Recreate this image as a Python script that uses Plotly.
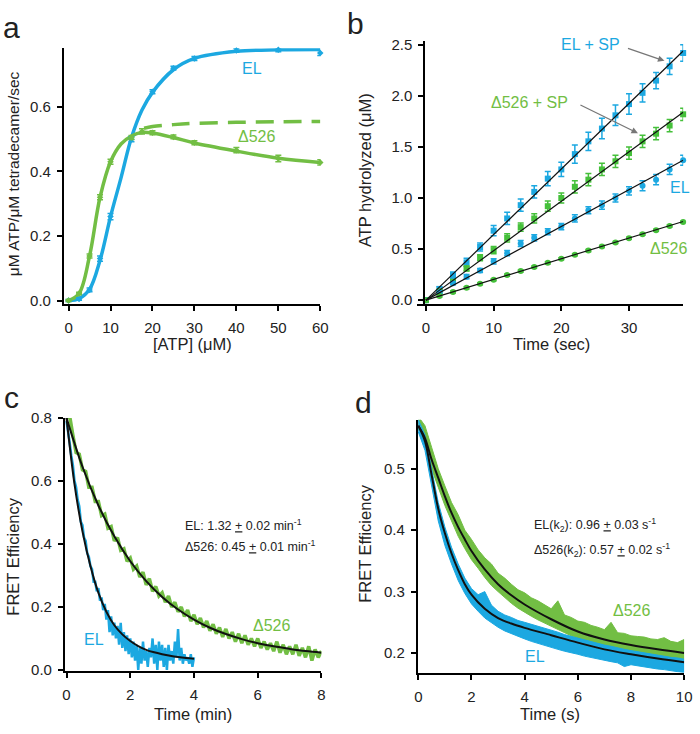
import numpy as np
import plotly.graph_objects as go

BLUE = "#1CA8E1"
GREEN = "#72BE44"
GREEN_B = "#45C03A"
FONT = "Liberation Sans, Arial, sans-serif"
W, H = 700, 734

# ---- panel a: ATPase rate vs [ATP]
atp = [0, 2.5, 5, 7.5, 10, 15, 20, 25, 30, 40, 50, 60]
el_rate = [0.0, 0.005, 0.033, 0.13, 0.26, 0.50, 0.647, 0.72, 0.75, 0.775, 0.777, 0.767]
el_rate_err = [0.003, 0.004, 0.006, 0.008, 0.01, 0.008, 0.006, 0.006, 0.006, 0.006, 0.006, 0.008]
d526_atp = [0, 2.5, 5, 7.5, 10, 15, 17.5, 20, 25, 30, 40, 50, 60]
d526_rate = [0.0, 0.022, 0.138, 0.32, 0.43, 0.505, 0.524, 0.52, 0.507, 0.489, 0.466, 0.44, 0.428]
d526_rate_err = [0.003, 0.004, 0.006, 0.008, 0.008, 0.006, 0.008, 0.006, 0.006, 0.006, 0.008, 0.01, 0.008]
fit_atp = [0, 2.5, 5, 7.5, 10, 12.5, 15, 17.5, 20, 25, 30, 40, 50, 60]
el_rate_fit = [0, 0.006, 0.035, 0.125, 0.26, 0.38, 0.505, 0.59, 0.645, 0.715, 0.75, 0.772, 0.777, 0.778]
d526_rate_fit = [0, 0.022, 0.138, 0.32, 0.43, 0.485, 0.51, 0.521, 0.519, 0.505, 0.488, 0.463, 0.441, 0.428]
dash_atp = [18, 20, 25, 30, 40, 50, 60]
d526_dash = [0.534, 0.539, 0.545, 0.549, 0.552, 0.554, 0.555]

# ---- panel b: ATP hydrolyzed vs time
time_b = [0, 2, 4, 6, 8, 10, 12, 14, 16, 18, 20, 22, 24, 26, 28, 30, 32, 34, 36, 38]
elsp = [0, 0.11, 0.245, 0.37, 0.52, 0.68, 0.80, 0.93, 1.06, 1.19, 1.28, 1.43, 1.555, 1.68, 1.81, 1.92, 2.03, 2.15, 2.29, 2.42]
elsp_err = [0.0, 0.02, 0.03, 0.04, 0.04, 0.05, 0.06, 0.06, 0.06, 0.07, 0.07, 0.09, 0.09, 0.10, 0.10, 0.10, 0.09, 0.08, 0.08, 0.08]
d526sp = [0, 0.086, 0.18, 0.31, 0.415, 0.49, 0.61, 0.715, 0.80, 0.92, 1.00, 1.11, 1.18, 1.28, 1.36, 1.44, 1.555, 1.63, 1.71, 1.82]
d526sp_err = [0.0, 0.015, 0.02, 0.025, 0.03, 0.035, 0.04, 0.04, 0.045, 0.05, 0.05, 0.06, 0.06, 0.06, 0.06, 0.06, 0.06, 0.06, 0.06, 0.06]
el_b = [0, 0.077, 0.165, 0.23, 0.29, 0.38, 0.46, 0.555, 0.61, 0.67, 0.72, 0.80, 0.88, 0.93, 1.00, 1.07, 1.12, 1.18, 1.28, 1.37]
el_b_err = [0.0, 0.01, 0.015, 0.02, 0.02, 0.025, 0.025, 0.03, 0.03, 0.03, 0.03, 0.035, 0.035, 0.04, 0.04, 0.04, 0.05, 0.05, 0.05, 0.05]
d526_b = [0, 0.04, 0.08, 0.12, 0.16, 0.20, 0.245, 0.285, 0.325, 0.365, 0.405, 0.445, 0.485, 0.525, 0.565, 0.605, 0.645, 0.685, 0.725, 0.765]
d526_b_err = [0.01] * 20
fit_t_b = [0, 38]
elsp_fit = [0, 2.44]
d526sp_fit = [0, 1.84]
el_b_fit = [0, 1.37]
d526_b_fit = [0, 0.77]

# ---- panel c: FRET decay (min)
el_c = [0.79, 0.76, 0.72, 0.68, 0.65, 0.60, 0.58, 0.54, 0.52, 0.47, 0.46, 0.42, 0.41, 0.37, 0.36, 0.33,
        0.32, 0.28, 0.28, 0.25, 0.26, 0.22, 0.23, 0.19, 0.21, 0.16, 0.19, 0.12, 0.17, 0.11, 0.15, 0.10,
        0.14, 0.08, 0.15, 0.07, 0.12, 0.06, 0.11, 0.05, 0.10, 0.04, 0.09, 0.03, 0.08, 0.00, 0.07, 0.02,
        0.09, 0.03, 0.06, 0.01, 0.07, 0.04, 0.10, 0.02, 0.08, 0.00, 0.09, 0.03, 0.08, 0.01, 0.07, 0.00,
        0.08, 0.03, 0.06, 0.02, 0.09, 0.04, 0.13, 0.03, 0.07, 0.02, 0.05, 0.03, 0.04, 0.02, 0.05, 0.01, 0.04]
d526_c = [0.80, 0.805, 0.745, 0.69, 0.685, 0.635, 0.63, 0.58, 0.58, 0.535, 0.535, 0.49, 0.495, 0.45, 0.455,
          0.41, 0.42, 0.38, 0.385, 0.345, 0.355, 0.32, 0.33, 0.295, 0.31, 0.27, 0.29, 0.25, 0.265, 0.235,
          0.245, 0.215, 0.235, 0.20, 0.215, 0.185, 0.20, 0.17, 0.19, 0.155, 0.175, 0.145, 0.165, 0.135,
          0.155, 0.125, 0.145, 0.115, 0.135, 0.105, 0.13, 0.10, 0.12, 0.09, 0.115, 0.085, 0.11, 0.08, 0.10,
          0.075, 0.10, 0.07, 0.09, 0.065, 0.085, 0.06, 0.09, 0.055, 0.08, 0.05, 0.075, 0.05, 0.08, 0.045,
          0.07, 0.04, 0.075, 0.03, 0.065, 0.04, 0.06]
el_c_fit_t = [0, 0.25, 0.5, 0.75, 1.0, 1.25, 1.5, 1.75, 2.0, 2.25, 2.5, 2.75, 3.0, 3.25, 3.5, 3.75, 4.0]
el_c_fit = [0.80, 0.59, 0.44, 0.33, 0.245, 0.185, 0.142, 0.113, 0.092, 0.076, 0.064, 0.056, 0.050, 0.045, 0.041, 0.038, 0.036]
d526_c_fit_t = [0, 0.5, 1, 1.5, 2, 2.5, 3, 3.5, 4, 4.5, 5, 5.5, 6, 6.5, 7, 7.5, 8]
d526_c_fit = [0.80, 0.645, 0.522, 0.424, 0.345, 0.282, 0.232, 0.192, 0.160, 0.134, 0.114, 0.098, 0.085, 0.075, 0.067, 0.060, 0.055]

# ---- panel d: FRET decay (s), noisy traces as upper/lower envelopes every 0.25 s
d526_d_hi = [0.585, 0.57, 0.535, 0.50, 0.472, 0.445, 0.425, 0.40, 0.385, 0.368, 0.355, 0.345, 0.330, 0.322,
             0.312, 0.303, 0.298, 0.290, 0.285, 0.278, 0.272, 0.285, 0.262, 0.258, 0.252, 0.250, 0.245,
             0.242, 0.238, 0.250, 0.233, 0.232, 0.228, 0.227, 0.226, 0.223, 0.222, 0.225, 0.219, 0.217, 0.222]
d526_d_lo = [0.565, 0.54, 0.50, 0.47, 0.44, 0.415, 0.39, 0.37, 0.352, 0.338, 0.323, 0.310, 0.300, 0.290,
             0.281, 0.273, 0.266, 0.260, 0.254, 0.248, 0.243, 0.238, 0.233, 0.228, 0.224, 0.220, 0.217,
             0.214, 0.211, 0.208, 0.206, 0.204, 0.202, 0.200, 0.198, 0.196, 0.195, 0.193, 0.192, 0.190, 0.190]
el_d_hi = [0.58, 0.555, 0.50, 0.445, 0.405, 0.372, 0.345, 0.322, 0.305, 0.295, 0.300, 0.278, 0.268, 0.262,
           0.258, 0.253, 0.250, 0.247, 0.244, 0.240, 0.237, 0.234, 0.230, 0.227, 0.224, 0.221, 0.218, 0.215,
           0.213, 0.211, 0.208, 0.206, 0.204, 0.202, 0.200, 0.198, 0.196, 0.195, 0.193, 0.192, 0.190]
el_d_lo = [0.56, 0.53, 0.47, 0.415, 0.375, 0.345, 0.318, 0.297, 0.280, 0.268, 0.257, 0.249, 0.242, 0.236,
           0.231, 0.227, 0.223, 0.219, 0.216, 0.212, 0.209, 0.206, 0.203, 0.200, 0.198, 0.195, 0.193, 0.190,
           0.188, 0.186, 0.184, 0.178, 0.181, 0.179, 0.177, 0.176, 0.174, 0.173, 0.171, 0.170, 0.168]
el_d_fit_t = [0, 0.25, 0.5, 0.75, 1.0, 1.25, 1.5, 1.75, 2.0, 2.5, 3.0, 3.5, 4.0, 5.0, 6.0, 7.0, 8.0, 9.0, 10.0]
el_d_fit = [0.57, 0.545, 0.49, 0.435, 0.395, 0.362, 0.335, 0.312, 0.295, 0.272, 0.257, 0.248, 0.241, 0.229, 0.217, 0.206, 0.198, 0.191, 0.185]
d526_d_fit_t = [0, 0.25, 0.5, 0.75, 1.0, 1.25, 1.5, 1.75, 2.0, 2.5, 3.0, 3.5, 4.0, 5.0, 6.0, 7.0, 8.0, 9.0, 10.0]
d526_d_fit = [0.57, 0.55, 0.515, 0.485, 0.455, 0.428, 0.405, 0.385, 0.366, 0.336, 0.312, 0.294, 0.279, 0.255, 0.235, 0.222, 0.213, 0.206, 0.200]


def px(x):
    return x / W


def py(y):
    return 1 - y / H


def axis(domain, rng, dtick, fmt=None, **kw):
    ax = dict(domain=domain, range=rng, dtick=dtick, tick0=0, showline=True, linecolor="black", linewidth=2,
              ticks="outside", ticklen=5, tickwidth=1.5, tickcolor="black", showgrid=False, zeroline=False,
              tickfont=dict(size=15, color="#222", family=FONT))
    if fmt:
        ax["tickformat"] = fmt
    ax.update(kw)
    return ax


def err(vals, color, width=3):
    return dict(type="data", array=vals, visible=True, color=color, thickness=1.5, width=width)


def band(hi, lo, step, color, xa, ya):
    t = list(np.arange(len(hi)) * step)
    return go.Scatter(x=t + t[::-1], y=hi + lo[::-1], fill="toself", fillcolor=color, mode="lines",
                      line=dict(color=color, width=1), xaxis=xa, yaxis=ya)


fig = go.Figure()

# a
fig.add_trace(go.Scatter(x=fit_atp, y=el_rate_fit, mode="lines", line=dict(color=BLUE, width=3.5, shape="spline"), xaxis="x", yaxis="y"))
fig.add_trace(go.Scatter(x=fit_atp, y=d526_rate_fit, mode="lines", line=dict(color=GREEN, width=3.5, shape="spline"), xaxis="x", yaxis="y"))
fig.add_trace(go.Scatter(x=dash_atp, y=d526_dash, mode="lines", line=dict(color=GREEN, width=3.5, dash="18px,10px", shape="spline"), xaxis="x", yaxis="y"))
fig.add_trace(go.Scatter(x=atp, y=el_rate, mode="markers", marker=dict(color=BLUE, size=5, symbol="diamond"), error_y=err(el_rate_err, BLUE), cliponaxis=False, xaxis="x", yaxis="y"))
fig.add_trace(go.Scatter(x=d526_atp, y=d526_rate, mode="markers", marker=dict(color=GREEN, size=5, symbol="diamond"), error_y=err(d526_rate_err, GREEN), cliponaxis=False, xaxis="x", yaxis="y"))

# b
for ys, es, color, sym in [(elsp, elsp_err, BLUE, "square"), (d526sp, d526sp_err, GREEN_B, "square"),
                           (el_b, el_b_err, BLUE, "circle"), (d526_b, d526_b_err, GREEN_B, "circle")]:
    fig.add_trace(go.Scatter(x=time_b, y=ys, mode="markers", marker=dict(color=color, size=6, symbol=sym),
                             error_y=err(es, color, 3), cliponaxis=False, xaxis="x2", yaxis="y2"))
for ys in [elsp_fit, d526sp_fit, el_b_fit, d526_b_fit]:
    fig.add_trace(go.Scatter(x=fit_t_b, y=ys, mode="lines", line=dict(color="#111", width=1.2), xaxis="x2", yaxis="y2"))

# c
fig.add_trace(go.Scatter(x=np.arange(len(d526_c)) * 0.1, y=d526_c, mode="lines", line=dict(color=GREEN, width=3.5), xaxis="x3", yaxis="y3"))
fig.add_trace(go.Scatter(x=np.arange(len(el_c)) * 0.05, y=el_c, mode="lines", line=dict(color=BLUE, width=2.5), xaxis="x3", yaxis="y3"))
fig.add_trace(go.Scatter(x=d526_c_fit_t, y=d526_c_fit, mode="lines", line=dict(color="#111", width=2, shape="spline"), xaxis="x3", yaxis="y3"))
fig.add_trace(go.Scatter(x=el_c_fit_t, y=el_c_fit, mode="lines", line=dict(color="#111", width=2, shape="spline"), xaxis="x3", yaxis="y3"))

# d
fig.add_trace(band(d526_d_hi, d526_d_lo, 0.25, GREEN, "x4", "y4"))
fig.add_trace(band(el_d_hi, el_d_lo, 0.25, BLUE, "x4", "y4"))
fig.add_trace(go.Scatter(x=d526_d_fit_t, y=d526_d_fit, mode="lines", line=dict(color="#111", width=2, shape="spline"), xaxis="x4", yaxis="y4"))
fig.add_trace(go.Scatter(x=el_d_fit_t, y=el_d_fit, mode="lines", line=dict(color="#111", width=2, shape="spline"), xaxis="x4", yaxis="y4"))


def label(text, x, y, size=16, color="#222", **kw):
    d = dict(text=text, x=px(x), y=py(y), xref="paper", yref="paper", showarrow=False,
             xanchor="center", yanchor="middle", font=dict(size=size, color=color, family=FONT))
    d.update(kw)
    return d


annotations = [
    label("a", 8, 19, 30), label("b", 358, 15, 30), label("c", 8, 397, 30), label("d", 366, 402, 30),
    label("μM ATP/μM tetradecamer/sec", 10, 168, 15.5, textangle=-90),
    label("[ATP] (μM)", 192, 342, 16.5),
    label("EL", 252, 61, 16, BLUE), label("Δ526", 257, 130, 16, GREEN),
    label("ATP hydrolyzed (μM)", 368, 165, 16.5, textangle=-90),
    label("Time (sec)", 557, 342, 16.5),
    label("EL + SP", 597, 36, 16, BLUE), label("Δ526 + SP", 535, 96, 16, GREEN),
    label("EL", 688, 182, 16, BLUE), label("Δ526", 676, 245, 16, GREEN),
    label("FRET Efficiency", 9, 560, 16.5, textangle=-90),
    label("Time (min)", 192, 721, 16.5),
    label("EL: 1.32 <u>+</u> 0.02 min<sup>-1</sup>", 182, 528, 12.5, xanchor="left"),
    label("Δ526: 0.45 <u>+</u> 0.01 min<sup>-1</sup>", 182, 549, 12.5, xanchor="left"),
    label("EL", 92, 645, 16, BLUE), label("Δ526", 272, 630, 16, GREEN),
    label("FRET Efficiency", 367, 547, 16.5, textangle=-90),
    label("Time (s)", 556, 721, 16.5),
    label("EL(k<sub>2</sub>): 0.96 <u>+</u> 0.03 s<sup>-1</sup>", 537, 527, 12.5, xanchor="left"),
    label("Δ526(k<sub>2</sub>): 0.57 <u>+</u> 0.02 s<sup>-1</sup>", 537, 553, 12.5, xanchor="left"),
    label("Δ526", 638, 615, 16, GREEN), label("EL", 540, 662, 16, BLUE),
]
for head, tail in [((672, 53), (634, 40)), ((645, 127), (586, 98))]:
    annotations.append(dict(x=px(head[0]), y=py(head[1]), xref="paper", yref="paper", text="", showarrow=True,
                            ax=tail[0] - head[0], ay=tail[1] - head[1], arrowhead=2, arrowsize=1,
                            arrowwidth=1.3, arrowcolor="#777"))

fig.update_layout(
    width=W, height=H, margin=dict(l=0, r=0, t=0, b=0), showlegend=False,
    plot_bgcolor="white", paper_bgcolor="white", font=dict(family=FONT, color="#222"),
    xaxis=axis([px(61), px(322)], [-1.1, 60.05], 10, anchor="y", ticklabelstandoff=4),
    yaxis=axis([py(302), py(40)], [-0.012, 0.782], 0.2, ".1f", anchor="x", ticklabelstandoff=3),
    xaxis2=axis([px(420), px(691)], [-1.35, 38.0], 10, anchor="y2", ticklabelstandoff=4),
    yaxis2=axis([py(302), py(33)], [-0.042, 2.535], 0.5, ".1f", anchor="free", position=px(427.7), ticklabelstandoff=3),
    xaxis3=axis([px(62), px(323)], [-0.05, 8.0], 2, anchor="y3", ticklabelstandoff=4),
    yaxis3=axis([py(677), py(418)], [-0.004, 0.8], 0.2, ".1f", anchor="x3", ticklabelstandoff=3),
    xaxis4=axis([px(421), px(692)], [-0.02, 10.0], 2, anchor="y4", ticklabelstandoff=4),
    yaxis4=axis([py(678.3), py(420)], [0.1683, 0.5796], 0.1, ".1f", anchor="x4", tick0=0.2, ticklabelstandoff=3),
    annotations=annotations,
)

# the page's default body margin would shift the whole figure by 8px
fig.write_html("out.html", config={"displayModeBar": False},
               post_script="document.body.style.margin='0';document.body.style.overflow='hidden';")
